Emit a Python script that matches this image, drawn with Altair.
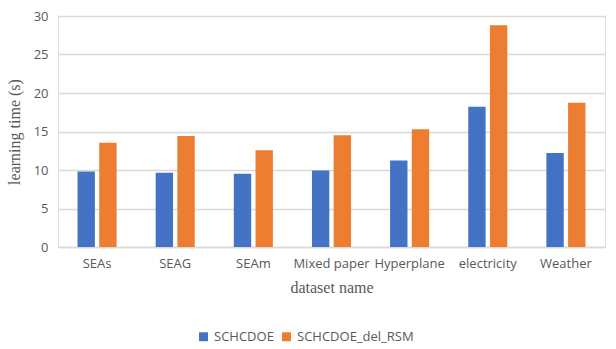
import altair as alt
import pandas as pd

datasets = ["SEAs", "SEAG", "SEAm", "Mixed paper", "Hyperplane", "electricity", "Weather"]
schcdoe = [9.8, 9.65, 9.5, 9.95, 11.25, 18.2, 12.2]
schcdoe_del_rsm = [13.55, 14.4, 12.55, 14.5, 15.3, 28.8, 18.75]
methods = ["SCHCDOE", "SCHCDOE_del_RSM"]
colors = ["#4472C4", "#ED7D31"]

rows = []
for name, a, b in zip(datasets, schcdoe, schcdoe_del_rsm):
    rows.append({"dataset": name, "method": methods[0], "time": a})
    rows.append({"dataset": name, "method": methods[1], "time": b})
df = pd.DataFrame(rows)

label_font = "Open Sans"
grey = "#595959"

chart = (
    alt.Chart(df)
    .mark_bar()
    .encode(
        x=alt.X(
            "dataset:N",
            sort=datasets,
            title="dataset name",
            scale=alt.Scale(paddingInner=0.5, paddingOuter=0.25),
            axis=alt.Axis(
                labelAngle=0,
                labelFont=label_font,
                labelFontSize=13,
                labelColor=grey,
                labelPadding=10,
                ticks=False,
                domainColor="#D9D9D9",
                domainWidth=1.5,
                titleFont="Liberation Serif",
                titleFontSize=16,
                titleFontWeight="normal",
                titleColor=grey,
                titlePadding=9,
            ),
        ),
        xOffset=alt.XOffset(
            "method:N", sort=methods, scale=alt.Scale(paddingInner=0.2)
        ),
        y=alt.Y(
            "time:Q",
            title="learning time (s)",
            scale=alt.Scale(domain=[0, 30], nice=False),
            axis=alt.Axis(
                values=[0, 5, 10, 15, 20, 25, 30],
                labelFont=label_font,
                labelFontSize=13,
                labelColor=grey,
                labelPadding=10,
                ticks=False,
                domain=False,
                gridColor="#D9D9D9",
                gridWidth=1.5,
                titleFont="Liberation Serif",
                titleFontSize=16,
                titleFontWeight="normal",
                titleColor=grey,
                titlePadding=11,
            ),
        ),
        color=alt.Color(
            "method:N",
            sort=methods,
            scale=alt.Scale(domain=methods, range=colors),
            legend=alt.Legend(
                title=None,
                orient="none",
                direction="horizontal",
                legendX=139,
                legendY=314,
                symbolType="square",
                symbolSize=80,
                symbolStrokeWidth=0,
                labelFont=label_font,
                labelFontSize=13,
                labelColor=grey,
                columnPadding=6,
                labelOffset=4,
            ),
        ),
    )
    .properties(
        width=547,
        height=231,
        padding={"left": 58, "top": 16, "right": 11, "bottom": 102},
        autosize=alt.AutoSizeParams(type="none"),
    )
    .configure_view(stroke=None)
    .configure(background="white")
)

chart.save("out.html", embed_options={"renderer": "svg", "actions": False})
